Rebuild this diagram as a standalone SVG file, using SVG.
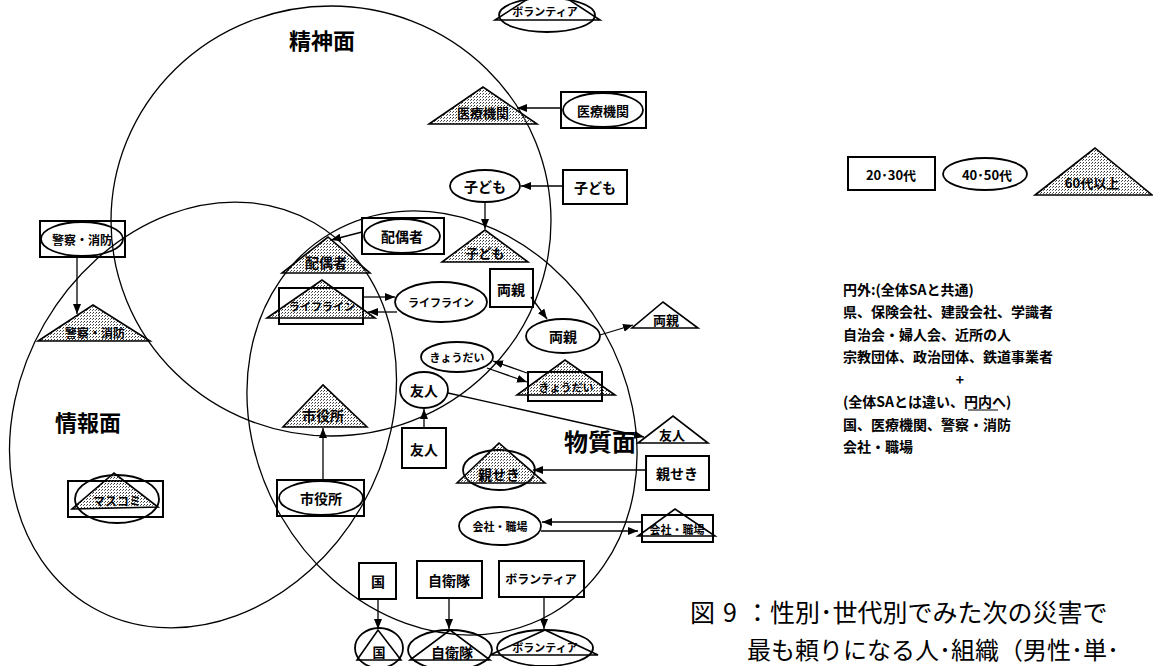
<svg xmlns="http://www.w3.org/2000/svg" width="1153" height="666" viewBox="0 0 1153 666">
<defs>
<pattern id="dots" width="3" height="3" patternUnits="userSpaceOnUse"><rect x="0" y="0" width="1" height="1" fill="#333"/><rect x="2" y="1" width="1" height="1" fill="#666"/></pattern>
<marker id="arr" markerWidth="10" markerHeight="8" refX="10" refY="4" orient="auto" markerUnits="userSpaceOnUse"><path d="M0,0 L10,4 L0,8 z" fill="#000"/></marker>
<style>
.reg{fill:none;stroke:#000;stroke-width:1.3}
.box{fill:none;stroke:#000;stroke-width:2}
.ell{fill:none;stroke:#000;stroke-width:1.8}
.tri{fill:none;stroke:#000;stroke-width:1.6}
.sh{fill:url(#dots)}
.con{stroke:#000;stroke-width:1.3;fill:none;marker-end:url(#arr)}
text{font-family:'Noto Sans CJK JP','Noto Sans CJK SC',sans-serif;fill:#000}
.lb{font-size:13px;font-weight:bold;text-anchor:middle;dominant-baseline:central}
.sm{font-size:11px}
.md{font-size:14px}
.big{font-size:22px;font-weight:bold;text-anchor:middle;dominant-baseline:central}
.leg{font-size:14px;font-weight:bold}
.cap{font-size:25px}
</style>
</defs>
<rect width="1153" height="666" fill="#fff"/>

<g id="regions">
<ellipse id="seishin" class="reg" cx="331" cy="221" rx="220" ry="215"/>
<ellipse id="joho" class="reg" cx="203" cy="415" rx="222" ry="183" transform="rotate(-60 203 415)"/>
<ellipse id="busshitsu" class="reg" cx="442" cy="423" rx="220" ry="186" transform="rotate(60 442 423)"/>
<text class="big" x="322" y="39">精神面</text>
<text class="big" x="88" y="421">情報面</text>
<text class="big" x="600" y="440" style="font-size:24px">物質面</text>
</g>

<g id="connectors">
<line class="con" x1="561" y1="108" x2="517" y2="108"/>
<line class="con" x1="563" y1="186" x2="521" y2="186"/>
<line class="con" x1="485" y1="202" x2="485" y2="229"/>
<line class="con" x1="362" y1="232" x2="331" y2="240"/>
<line class="con" x1="363" y1="297" x2="395" y2="297"/>
<line class="con" x1="397" y1="312" x2="368" y2="312"/>
<line class="con" x1="531" y1="297" x2="547" y2="319"/>
<line class="con" x1="600" y1="335" x2="633" y2="325"/>
<line class="con" x1="527" y1="373" x2="493" y2="361"/>
<line class="con" x1="487" y1="368" x2="527" y2="382"/>
<line class="con" x1="448" y1="393" x2="644" y2="437"/>
<line class="con" x1="424" y1="428" x2="424" y2="409"/>
<line class="con" x1="646" y1="470" x2="533" y2="470"/>
<line class="con" x1="642" y1="522" x2="542" y2="522"/>
<line class="con" x1="541" y1="531" x2="638" y2="531"/>
<line class="con" x1="378" y1="599" x2="378" y2="629"/>
<line class="con" x1="449" y1="598" x2="449" y2="629"/>
<line class="con" x1="544" y1="597" x2="544" y2="629"/>
<line class="con" x1="323" y1="480" x2="323" y2="428"/>
<line class="con" x1="77" y1="257" x2="77" y2="314"/>
</g>

<g id="n-vol-top">
<ellipse class="ell" cx="547" cy="15" rx="48" ry="17"/>
<polygon class="tri" points="495,20 600,20 548,-14"/>
<text class="lb sm" x="545" y="11">ボランティア</text>
</g>
<g id="n-iryo-tri">
<polygon class="tri sh" points="429,124 537,124 483,87"/>
<text class="lb" x="483" y="112">医療機関</text>
</g>
<g id="n-iryo-box">
<rect class="box" x="561" y="92" width="85" height="36"/>
<ellipse class="ell" cx="603" cy="110" rx="40" ry="17"/>
<text class="lb" x="603" y="110">医療機関</text>
</g>
<g id="n-kodomo-ell">
<ellipse class="ell" cx="485" cy="186" rx="35" ry="16"/>
<text class="lb md" x="485" y="186">子ども</text>
</g>
<g id="n-kodomo-box">
<rect class="box" x="563" y="170" width="64" height="34"/>
<text class="lb md" x="595" y="187">子ども</text>
</g>
<g id="n-kodomo-tri">
<polygon class="tri sh" points="442,262 528,262 485,230"/>
<text class="lb" x="485" y="252">子ども</text>
</g>
<g id="n-haigu-box">
<rect class="box" x="362" y="218" width="82" height="36"/>
<ellipse class="ell" cx="402" cy="236" rx="38" ry="17"/>
<text class="lb md" x="402" y="236">配偶者</text>
</g>
<g id="n-haigu-tri">
<polygon class="tri sh" points="282,273 370,273 328,237"/>
<text class="lb md" x="326" y="262">配偶者</text>
</g>
<g id="n-life-tri">
<rect class="box" x="279" y="288" width="84" height="36"/>
<polygon class="tri sh" points="267,318 375,318 322,280"/>
<text class="lb sm" x="322" y="306">ライフライン</text>
</g>
<g id="n-life-ell">
<ellipse class="ell" cx="441" cy="302" rx="46" ry="20"/>
<text class="lb sm" x="441" y="302">ライフライン</text>
</g>
<g id="n-ryoshin-box">
<rect class="box" x="490" y="269" width="43" height="38"/>
<text class="lb md" x="511" y="289">両親</text>
</g>
<g id="n-ryoshin-ell">
<ellipse class="ell" cx="563" cy="336" rx="37" ry="17"/>
<text class="lb md" x="563" y="336">両親</text>
</g>
<g id="n-ryoshin-tri">
<polygon class="tri" points="632,328 698,328 663,302"/>
<text class="lb" x="666" y="319">両親</text>
</g>
<g id="n-kyodai-ell">
<ellipse class="ell" cx="457" cy="357" rx="36" ry="15"/>
<text class="lb sm" x="457" y="357">きょうだい</text>
</g>
<g id="n-kyodai-tri">
<rect class="box" x="528" y="372" width="74" height="29"/>
<polygon class="tri sh" points="517,395 615,395 565,360"/>
<text class="lb sm" x="566" y="387">きょうだい</text>
</g>
<g id="n-yujin-ell">
<ellipse class="ell" cx="424" cy="390" rx="24" ry="18"/>
<text class="lb md" x="424" y="390">友人</text>
</g>
<g id="n-yujin-box">
<rect class="box" x="402" y="428" width="44" height="40"/>
<text class="lb md" x="424" y="449">友人</text>
</g>
<g id="n-yujin-tri">
<polygon class="tri" points="638,443 708,443 673,416"/>
<text class="lb" x="672" y="434">友人</text>
</g>
<g id="n-shinseki-tri">
<ellipse class="ell" cx="499" cy="470" rx="36" ry="20"/>
<polygon class="tri sh" points="457,483 545,483 499,443"/>
<text class="lb md" x="499" y="474">親せき</text>
</g>
<g id="n-shinseki-box">
<rect class="box" x="646" y="456" width="63" height="34"/>
<text class="lb md" x="677" y="473">親せき</text>
</g>
<g id="n-kaisha-ell">
<ellipse class="ell" cx="500" cy="526" rx="41" ry="19"/>
<text class="lb sm" x="500" y="526">会社・職場</text>
</g>
<g id="n-kaisha-tri">
<rect class="box" x="642" y="515" width="71" height="27"/>
<polygon class="tri" points="638,536 715,536 675,509"/>
<text class="lb sm" x="677" y="529">会社・職場</text>
</g>
<g id="n-kuni-box">
<rect class="box" x="359" y="563" width="37" height="36"/>
<text class="lb md" x="378" y="581">国</text>
</g>
<g id="n-kuni-tri">
<ellipse class="ell" cx="379" cy="648" rx="24" ry="20"/>
<polygon class="tri" points="357,660 401,660 378,630"/>
<text class="lb" x="379" y="651">国</text>
</g>
<g id="n-jieitai-box">
<rect class="box" x="417" y="561" width="65" height="37"/>
<text class="lb md" x="449" y="580">自衛隊</text>
</g>
<g id="n-jieitai-tri">
<ellipse class="ell" cx="450" cy="650" rx="42" ry="20"/>
<polygon class="tri" points="410,660 490,660 450,630"/>
<text class="lb md" x="452" y="652">自衛隊</text>
</g>
<g id="n-vol-box">
<rect class="box" x="499" y="561" width="85" height="36"/>
<text class="lb" x="541" y="578" style="font-size:12px">ボランティア</text>
</g>
<g id="n-vol-tri">
<ellipse class="ell" cx="545" cy="648" rx="48" ry="18"/>
<polygon class="tri" points="490,655 598,655 545,630"/>
<text class="lb sm" x="545" y="647">ボランティア</text>
</g>
<g id="n-shiyaku-tri">
<polygon class="tri sh" points="283,427 367,427 323,385"/>
<text class="lb md" x="323" y="415">市役所</text>
</g>
<g id="n-shiyaku-box">
<rect class="box" x="277" y="480" width="87" height="36"/>
<ellipse class="ell" cx="321" cy="498" rx="42" ry="17"/>
<text class="lb md" x="321" y="498">市役所</text>
</g>
<g id="n-keisatsu-box">
<rect class="box" x="40" y="221" width="85" height="36"/>
<ellipse class="ell" cx="82" cy="239" rx="41" ry="17"/>
<text class="lb" x="82" y="239" style="font-size:12px">警察・消防</text>
</g>
<g id="n-keisatsu-tri">
<polygon class="tri sh" points="38,341 150,341 93,305"/>
<text class="lb" x="95" y="332" style="font-size:12px">警察・消防</text>
</g>
<g id="n-masukomi">
<rect class="box" x="68" y="481" width="95" height="36"/>
<ellipse class="ell" cx="117" cy="499" rx="42" ry="24"/>
<polygon class="tri sh" points="72,509 158,507 114,473"/>
<text class="lb" x="117" y="500" style="font-size:12px">マスコミ</text>
</g>

<g id="legend">
<rect class="box" x="848" y="157" width="87" height="33"/>
<text class="lb" x="891" y="174">20･30代</text>
<ellipse class="ell" cx="985" cy="174" rx="42" ry="16"/>
<text class="lb" x="987" y="174">40･50代</text>
<polygon class="tri sh" points="1035,195 1152,195 1095,148"/>
<text class="lb" x="1092" y="182">60代以上</text>
<text class="leg" x="843" y="295">円外:(全体SAと共通)</text>
<text class="leg" x="843" y="317">県、保険会社、建設会社、学識者</text>
<text class="leg" x="843" y="340">自治会・婦人会、近所の人</text>
<text class="leg" x="843" y="362">宗教団体、政治団体、鉄道事業者</text>
<text class="leg" x="960" y="385" text-anchor="middle">+</text>
<text class="leg" x="843" y="407">(全体SAとは違い、円内へ)</text>
<line x1="968" y1="410" x2="998" y2="410" stroke="#000" stroke-width="1"/>
<text class="leg" x="843" y="430">国、医療機関、警察・消防</text>
<text class="leg" x="843" y="452">会社・職場</text>
</g>

<g id="caption">
<text class="cap" x="690" y="622">図<tspan x="723">9</tspan><tspan x="745">：</tspan><tspan x="770">性別･世代別でみた次の災害で</tspan></text>
<text class="cap" x="747" y="659" style="font-size:24px">最も頼りになる人･組織（男性･単･</text>
</g>
</svg>
